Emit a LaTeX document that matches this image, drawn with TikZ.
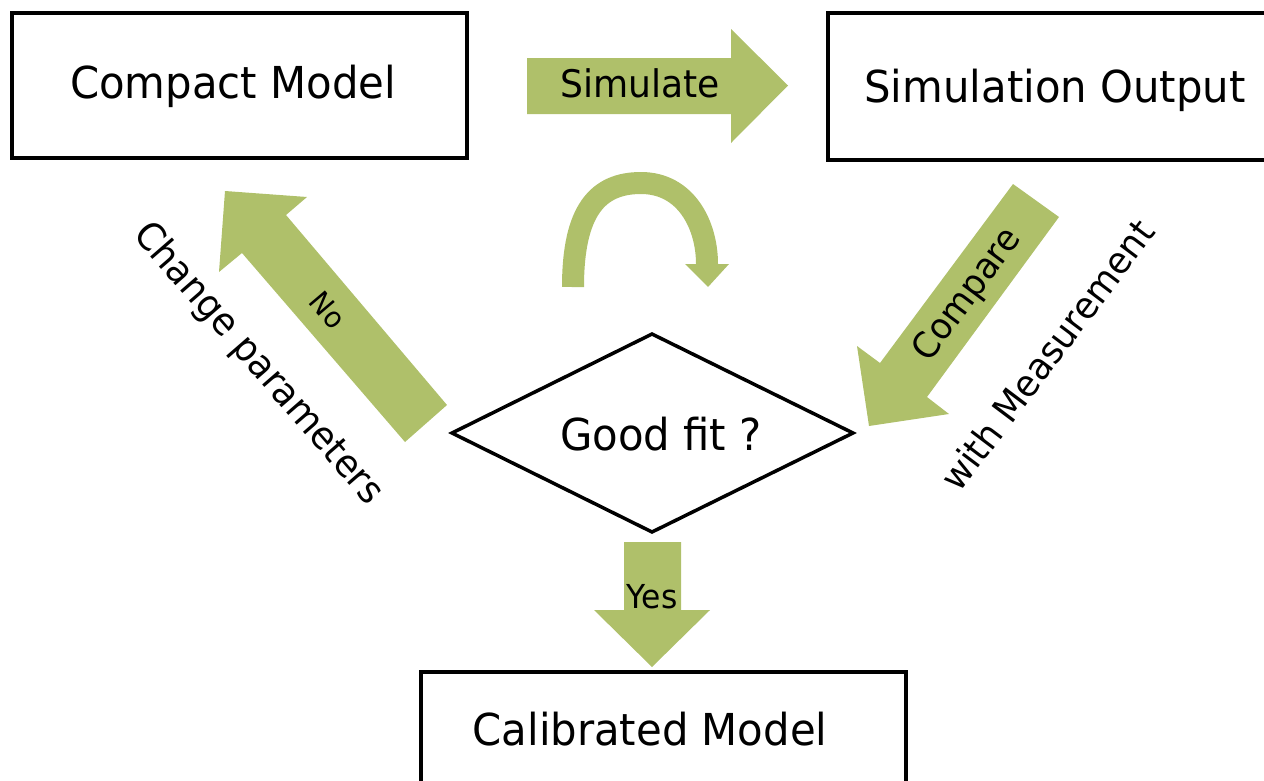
\documentclass[tikz,border=0pt]{standalone}
\usepackage{fontspec}
\setmainfont{DejaVu Sans}[FakeStretch=0.95]
\definecolor{arrowgreen}{RGB}{175,192,106}
\begin{document}
\begin{tikzpicture}[x=1pt,y=-1pt,
  box/.style={draw=black, line width=3.5pt, fill=white, inner sep=0pt},
  big/.style={font=\fontsize{44}{52}\selectfont, anchor=base, inner sep=0pt},
  mid/.style={font=\fontsize{37}{44}\selectfont, inner sep=0pt},
  blockarrow/.style={fill=arrowgreen, draw=none},
]
\useasboundingbox (0,0) rectangle (1264,780);
\clip (0,0) rectangle (1264,780);

% boxes
\node[box, minimum width=455pt, minimum height=145pt] (cm) at (239.5,85.5) {};
\node[big] (cmt) at (233,98) {Compact Model};
\node[box, minimum width=480pt, minimum height=147pt] (so) at (1068,86.5) {};
\node[big] (sot) at (1055,102) {Simulation Output};
\node[box, minimum width=485pt, minimum height=150pt] (calib) at (663.5,747) {};
\node[big] (calt) at (650,745) {Calibrated Model};

% decision diamond
\coordinate (dl) at (452,433);
\coordinate (dt) at (652,334);
\coordinate (dr) at (853,433);
\coordinate (db) at (652,532);
\draw[line width=3.5pt, line join=miter] (dl) -- (dt) -- (dr) -- (db) -- cycle;
\node[big] (fit) at (661,450) {Good fit ?};

% Simulate arrow
\fill[blockarrow] (527,58) -- (731,58) -- (731,29) -- (788,85.5) -- (731,143) -- (731,114) -- (527,114) -- cycle;
\node[font=\fontsize{38}{45}\selectfont, anchor=base, inner sep=0pt] (simt) at (640,97) {Simulate};

% Compare arrow
\fill[blockarrow] (1013,184) -- (1059,217) -- (927,397) -- (949,414) -- (869,426) -- (857,346) -- (880,363) -- cycle;
\node[font=\fontsize{36}{43}\selectfont, inner sep=0pt, rotate=53.4] (cmpt) at (968,295) {Compare};
\node[mid, rotate=53] (meas) at (1047,355) {with Measurement};

% No arrow
\fill[blockarrow] (225,191) -- (307,197) -- (286,215) -- (447,405) -- (405,442) -- (242,253) -- (219,272) -- cycle;
\node[font=\fontsize{29}{35}\selectfont, rotate=-49.7, inner sep=0pt] (not) at (328,310) {No};
\node[font=\fontsize{38}{45}\selectfont, inner sep=0pt, rotate=-49] (chg) at (258,364) {Change parameters};

% Yes arrow
\fill[blockarrow] (624,542) -- (681,542) -- (681,610) -- (710,610) -- (652,667) -- (594,610) -- (624,610) -- cycle;
\node[font=\fontsize{33}{39}\selectfont, anchor=base, inner sep=0pt] (yest) at (652,608) {Yes};

% curved loop arrow
\coordinate (ls) at (573,287);
\coordinate (lt) at (641,183);
\coordinate (le) at (707,264);
\draw[arrowgreen, line width=22pt, line cap=butt] (ls) .. controls (573,210) and (598,183) .. (lt) .. controls (686,183) and (707,225) .. (le);
\fill[blockarrow] (685,264) -- (729,264) -- (708,287) -- cycle;
\end{tikzpicture}
\end{document}
